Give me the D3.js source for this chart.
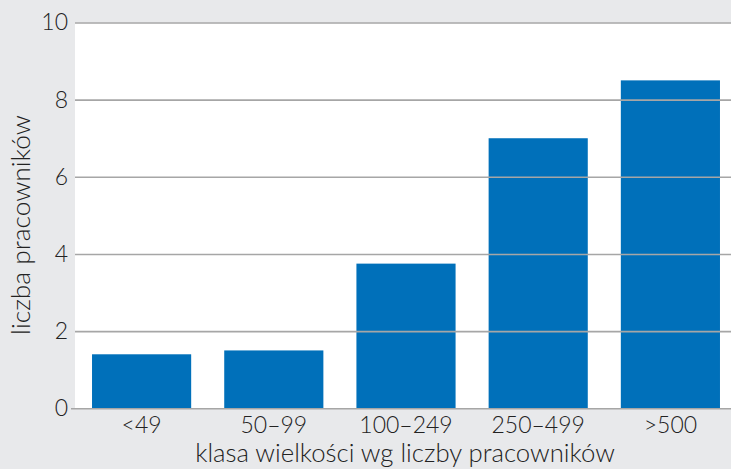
<!DOCTYPE html>
<html>
<head>
<meta charset="utf-8">
<script src="https://cdn.jsdelivr.net/npm/d3@7"></script>
<style>
  html, body { margin: 0; padding: 0; background: #e8e9eb; }
  svg { display: block; }
  text { font-family: Lato, "Open Sans", sans-serif; font-weight: 300; fill: #222222; }
</style>
</head>
<body>
<svg id="chart" width="731" height="469"></svg>
<script>
// Employee count by company size class
const categories = ["<49", "50–99", "100–249", "250–499", ">500"];
const values = [1.4, 1.5, 3.75, 7, 8.5];
const yTicks = [0, 2, 4, 6, 8, 10];

const W = 731, H = 469;
const plot = { left: 75, right: 731, top: 22.5, bottom: 408.3 };

const svg = d3.select("#chart");

svg.append("rect").attr("width", W).attr("height", H).attr("fill", "#e8e9eb");

const x = d3.scaleBand()
  .domain(categories)
  .range([75.5, 736.5])
  .paddingInner(0.25)
  .paddingOuter(0.125);

const y = d3.scaleLinear().domain([0, 10]).range([plot.bottom, plot.top]);

// plot area
svg.append("rect")
  .attr("x", plot.left).attr("y", plot.top)
  .attr("width", plot.right - plot.left).attr("height", plot.bottom - plot.top)
  .attr("fill", "#ffffff");

// bars
svg.append("g").selectAll("rect")
  .data(categories)
  .join("rect")
  .attr("x", d => x(d))
  .attr("width", x.bandwidth())
  .attr("y", (d, i) => y(values[i]))
  .attr("height", (d, i) => y(0) - y(values[i]))
  .attr("fill", "#0070ba");

// horizontal grid lines, drawn over the bars
const yAxis = d3.axisLeft(y)
  .tickValues(yTicks)
  .tickSize(-(plot.right - plot.left))
  .tickPadding(7)
  .tickFormat(d3.format("d"));

const gy = svg.append("g")
  .attr("transform", `translate(${plot.left},0)`)
  .call(yAxis);
gy.select(".domain").remove();
gy.selectAll(".tick line")
  .attr("stroke", "#a6a6a6")
  .attr("stroke-width", 1.6)
  .attr("x1", d => d === 0 ? -4 : 0);
gy.selectAll(".tick text")
  .attr("font-size", 23)
  .attr("fill", "#222222")
  .style("font-family", "Lato, 'Open Sans', sans-serif")
  .style("font-weight", 300);

// category labels
const xAxis = d3.axisBottom(x).tickSize(0).tickPadding(8);
const gx = svg.append("g")
  .attr("transform", `translate(0,${plot.bottom})`)
  .call(xAxis);
gx.select(".domain").remove();
gx.selectAll(".tick text")
  .attr("font-size", 23)
  .attr("fill", "#222222")
  .style("font-family", "Lato, 'Open Sans', sans-serif")
  .style("font-weight", 300);

// size a title so it spans the wanted length
function fitText(sel, target) {
  const w = sel.node().getComputedTextLength();
  const fs = parseFloat(sel.attr("font-size"));
  sel.attr("font-size", fs * target / w);
}

// axis titles
const xTitle = svg.append("text")
  .attr("x", 405)
  .attr("y", 462)
  .attr("text-anchor", "middle")
  .attr("font-size", 21)
  .text("klasa wielkości wg liczby pracowników");
fitText(xTitle, 420);

const yTitle = svg.append("text")
  .attr("transform", `translate(30,225) rotate(-90)`)
  .attr("text-anchor", "middle")
  .attr("font-size", 21)
  .text("liczba pracowników");
fitText(yTitle, 220);
</script>
</body>
</html>
